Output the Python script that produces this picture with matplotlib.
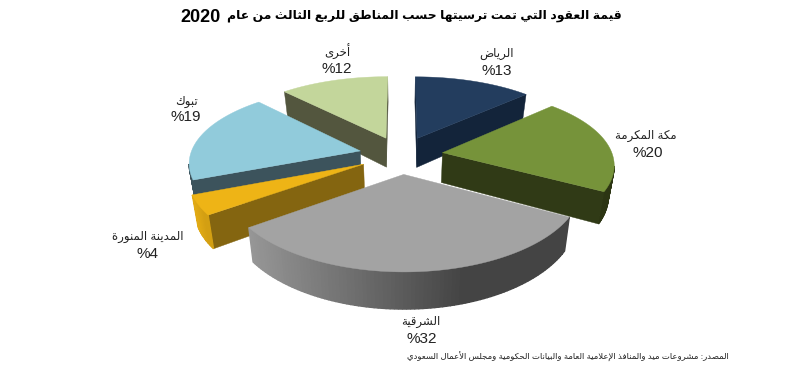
import re
import unicodedata
import numpy as np
import matplotlib
matplotlib.use("Agg")
import matplotlib.pyplot as plt
from matplotlib.colors import to_rgb

# Datos
regions = ["الرياض", "مكة المكرمة", "الشرقية", "المدينة المنورة", "تبوك", "أخرى"]
shares = [13, 20, 32, 4, 19, 12]
title = "قيمة العقود التي تمت ترسيتها حسب المناطق للربع الثالث من عام"
title_year = "2020"
source = "المصدر: مشروعات ميد والمنافذ الإعلامية العامة والبيانات الحكومية ومجلس الأعمال السعودي"

top_colors = ["#233d5e", "#76933a", "#a3a3a3", "#eeb416", "#91cbdb", "#c3d69b"]
side_colors = ["#13243a", "#303a16", "#444444", "#846510", "#3c535c", "#53563e"]
arc_left = ["#13243a", "#303a16", "#969696", "#e2ab14", "#3c535c", "#53563e"]
arc_right = ["#13243a", "#2c3513", "#444444", "#d39f12", "#3c535c", "#53563e"]

name_pos = [(497, 54), (646, 136), (421, 322), (148, 237), (187, 102), (337, 52)]
pct_pos = [(497, 71), (648, 153), (422, 339), (148, 254), (186, 117), (337, 69)]

draw_order = [5, 0, 4, 3, 2, 1]

# Proyeccion
cx, cy = 401, 155
R = 170
explode = 42
persp_x = 0.0008
persp_y = 0.000907
tilt = 0.4457
height = 30
shrink = 0.028


def project(X, Y, z=0.0):
    sx = 1 / (1 - persp_x * Y)
    sy = 1 / (1 - persp_y * Y)
    return cx + X * sx * (1 - shrink * z), cy + tilt * Y * sy + height * sy * z


# Formas de presentacion arabes sacadas de unicodedata
forms = {}
for code in list(range(0xFB50, 0xFDFF)) + list(range(0xFE70, 0xFEFD)):
    parts = unicodedata.decomposition(chr(code)).split()
    if len(parts) >= 2 and parts[0] in ("<isolated>", "<final>", "<initial>", "<medial>"):
        key = "".join(chr(int(p, 16)) for p in parts[1:])
        forms.setdefault((key, parts[0]), chr(code))
no_forward = set("اأإآدذرزوؤةىء")


def is_arabic(c):
    return "\u0621" <= c <= "\u064A"


def shape(text):
    text = unicodedata.normalize("NFC", text)
    out = []
    i = 0
    while i < len(text):
        c = text[i]
        if not is_arabic(c):
            out.append(c)
            i += 1
            continue
        joins_prev = i > 0 and is_arabic(text[i - 1]) and text[i - 1] not in no_forward
        # lam + alef
        if c == "ل" and i + 1 < len(text) and text[i + 1] in "اأإآ":
            kind = "<final>" if joins_prev else "<isolated>"
            out.append(forms[(c + text[i + 1], kind)])
            i += 2
            continue
        joins_next = i + 1 < len(text) and is_arabic(text[i + 1]) and c not in no_forward
        if joins_prev and joins_next:
            kind = "<medial>"
        elif joins_prev:
            kind = "<final>"
        elif joins_next:
            kind = "<initial>"
        else:
            kind = "<isolated>"
        out.append(forms.get((c, kind), forms.get((c, "<isolated>"), c)))
        i += 1
    visual = "".join(out)[::-1]
    return re.sub(r"\d+", lambda m: m.group(0)[::-1], visual)


plt.rcParams["font.family"] = ["Liberation Sans", "DejaVu Sans"]

fig = plt.figure(figsize=(8.09, 3.88), dpi=100)
ax = fig.add_axes([0, 0, 1, 1])
ax.set_xlim(0, 809)
ax.set_ylim(388, 0)
ax.axis("off")

cum = np.cumsum([0] + shares) / sum(shares) * 2 * np.pi

for i in draw_order:
    t0, t1 = cum[i], cum[i + 1]
    mid = (t0 + t1) / 2
    ox, oy = explode * np.sin(mid), -explode * np.cos(mid)
    th = np.linspace(t0, t1, max(int((t1 - t0) * 50), 8))
    # contorno en sentido horario: punta, arco, punta
    Xs = np.r_[ox, ox + R * np.sin(th), ox]
    Ys = np.r_[oy, oy - R * np.cos(th), oy]
    xt, yt = project(Xs, Ys)
    xb, yb = project(Xs, Ys, 1.0)

    x_min, x_max = xt[1:-1].min(), xt[1:-1].max()
    c_l, c_r = np.array(to_rgb(arc_left[i])), np.array(to_rgb(arc_right[i]))
    for k in range(len(xt) - 1):
        if xt[k] <= xt[k + 1]:
            continue
        radial = k == 0 or k == len(xt) - 2
        if radial:
            col = side_colors[i]
        else:
            f = ((xt[k] + xt[k + 1]) / 2 - x_min) / max(x_max - x_min, 1)
            col = c_l + (c_r - c_l) * min(1.0, f * 1.5)
        ax.fill([xt[k], xt[k + 1], xb[k + 1], xb[k]],
                [yt[k], yt[k + 1], yb[k + 1], yb[k]],
                color=col, lw=0.3 if radial else 1.0)
    ax.fill(xt, yt, color=top_colors[i], lw=0.3)

for i in range(len(regions)):
    ax.text(name_pos[i][0], name_pos[i][1], shape(regions[i]), ha="center", va="center",
            fontsize=8.5, color="#222222")
    ax.text(pct_pos[i][0], pct_pos[i][1], "%" + str(shares[i]), ha="center", va="center",
            fontsize=11, color="#222222")

ax.text(622, 16, shape(title), ha="right", va="center", fontsize=8.9,
        fontweight="bold", color="black")
ax.text(180, 17, title_year, ha="left", va="center", fontsize=13,
        fontweight="bold", color="black")
ax.text(729, 357, shape(source), ha="right", va="center", fontsize=6.1, color="#222222")

fig.savefig("out.png", dpi=100)
